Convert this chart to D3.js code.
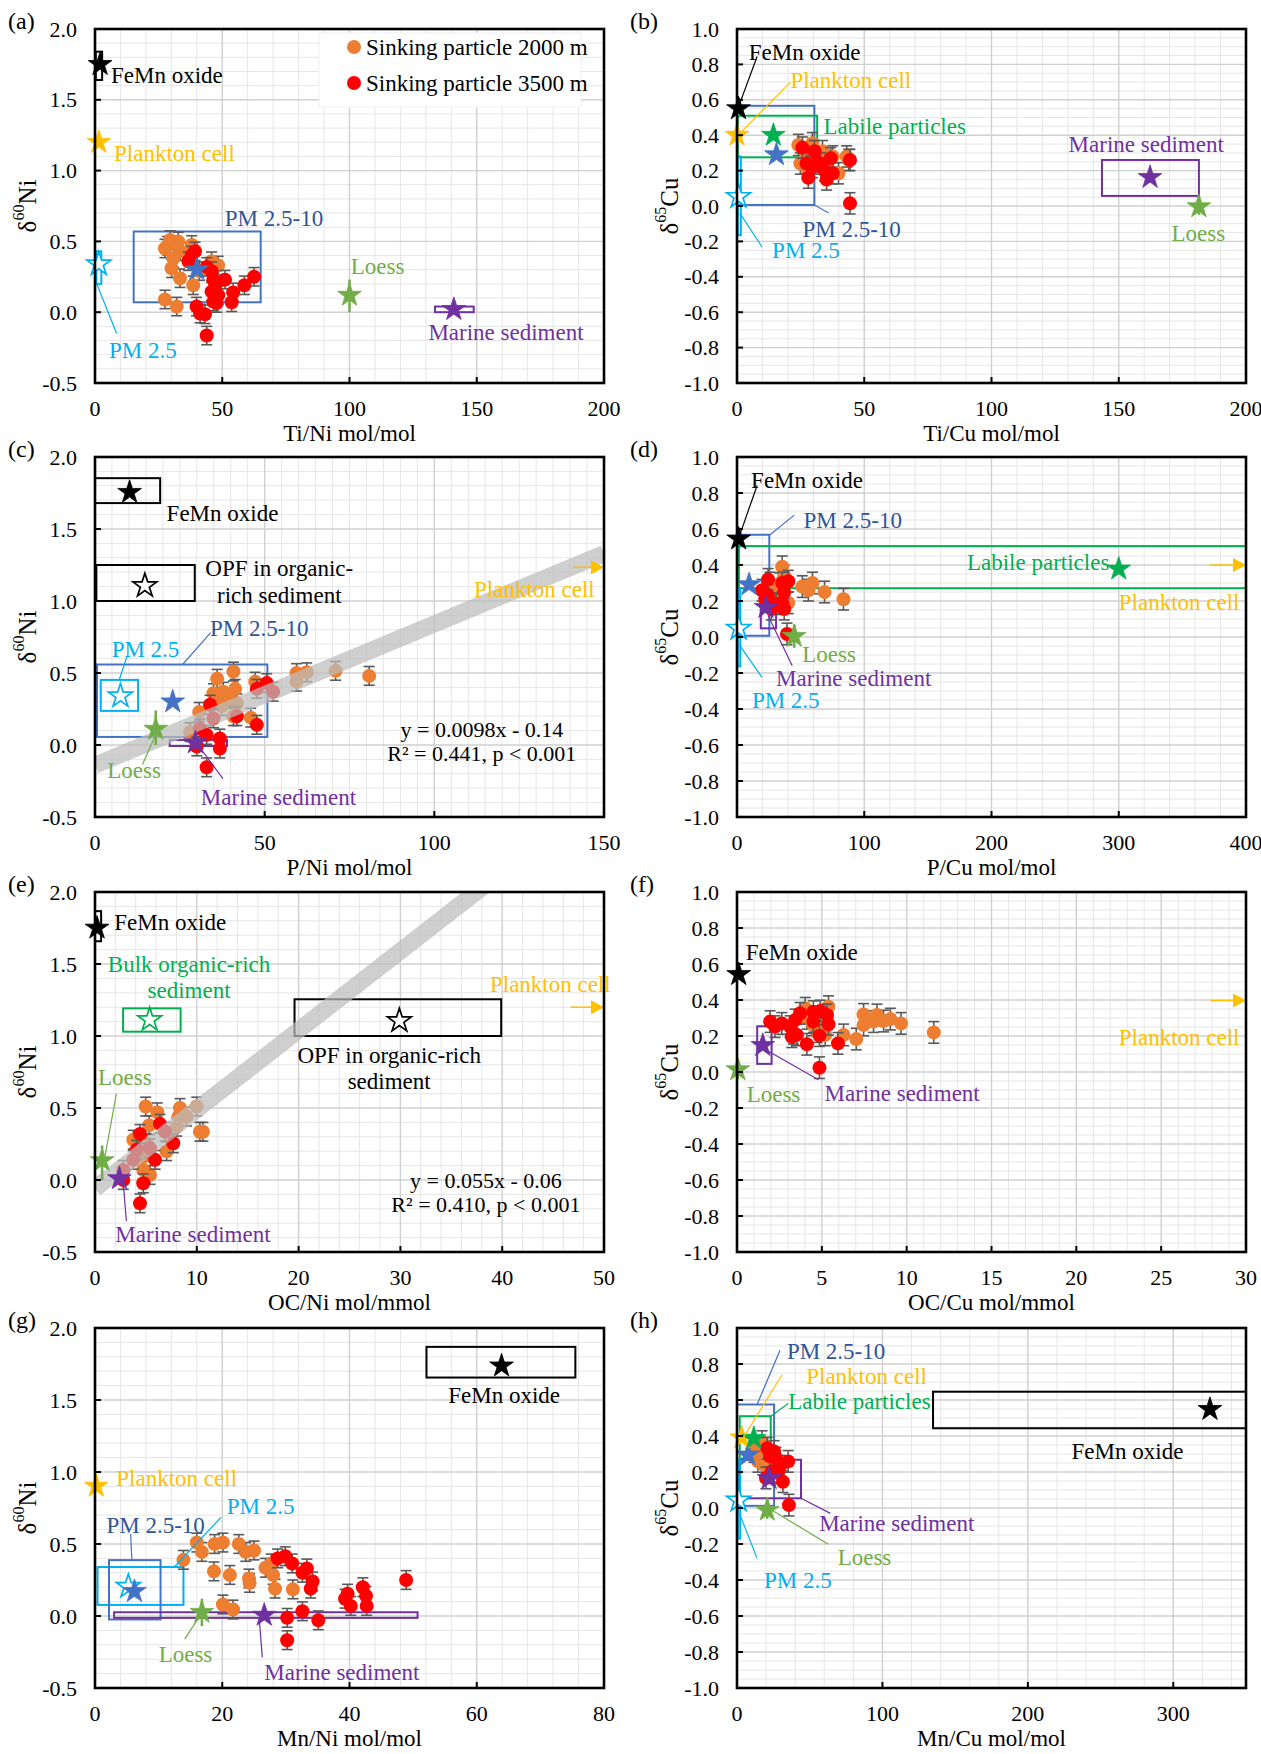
<!DOCTYPE html>
<html>
<head>
<meta charset="utf-8">
<script src="https://cdn.jsdelivr.net/npm/d3@7"></script>
<style>
  body { margin: 0; background: #fff; }
  svg text { font-family: "Liberation Serif", "Times New Roman", serif; }
</style>
</head>
<body>
<svg id="fig" width="1261" height="1754"></svg>
<script>
// ---- sinking particle data, [ratio, delta] ----
const orangeA = [[27.5,0.45],[29.5,0.51],[32.7,0.50],[38,0.475],[30.8,0.38],[30.1,0.31],[33.4,0.24],[38.6,0.19],[27.5,0.09],[32.1,0.04],[45.8,0.36],[48.4,0.33],[33.4,0.43],[28.5,0.47],[41,0.29]];
const redA = [[38,0.40],[39.3,0.43],[36.7,0.36],[43.9,0.32],[45.8,0.29],[46.5,0.23],[47.2,0.18],[45.8,0.145],[48.4,0.12],[51.1,0.23],[54.3,0.14],[58.7,0.19],[62.5,0.25],[53.7,0.07],[46.5,0.075],[39.9,0.04],[41.3,-0.01],[43.2,-0.015],[43.9,-0.165],[47.8,0.065]];
const orangeB = [[24.1,0.345],[24.9,0.24],[29.6,0.355],[27.3,0.28],[32,0.27],[37.6,0.28],[39.9,0.185],[35.2,0.20],[43.1,0.28],[43.9,0.26],[28,0.20],[33.6,0.31]];
const redB = [[25.7,0.33],[27.3,0.24],[28,0.16],[30.4,0.31],[32.8,0.24],[34.4,0.20],[35.2,0.15],[36.8,0.27],[37.6,0.185],[44.4,0.26],[44.4,0.015],[31.2,0.25],[29.6,0.22]];
const orangeC = [[36,0.46],[40.8,0.51],[47.2,0.44],[59.4,0.50],[62.4,0.505],[70.9,0.515],[80.8,0.48],[59.4,0.44],[37.8,0.37],[41.3,0.39],[35.4,0.31],[39.8,0.32],[41.8,0.29],[37.3,0.27],[30.7,0.23],[40.8,0.20],[45.9,0.19],[28,0.09],[34.9,0.36]];
const redC = [[50.6,0.43],[52.5,0.37],[47.7,0.39],[33.9,0.28],[34.9,0.185],[41.8,0.20],[47.7,0.14],[30.9,0.115],[32.9,0.07],[30,-0.01],[36.8,-0.025],[32.9,-0.155],[36.8,0.045]];
const orangeD = [[35.5,0.39],[37.1,0.34],[40.3,0.19],[51.3,0.28],[56.1,0.26],[59.3,0.30],[68.8,0.25],[83.7,0.21],[26,0.30],[32.3,0.25],[33.9,0.295],[29.2,0.21]];
const redD = [[19.7,0.26],[24.4,0.32],[22.2,0.21],[27,0.155],[35.5,0.30],[37.1,0.25],[40.3,0.31],[35.5,0.19],[37.1,0.155],[39.3,0.017],[24.4,0.23],[30.7,0.185]];
const orangeE = [[4.98,0.51],[6.12,0.47],[8.35,0.50],[9.99,0.51],[10.3,0.335],[10.6,0.335],[5.33,0.38],[3.76,0.28],[5.08,0.255],[7.04,0.20],[4.74,0.07],[5.4,0.035],[8.03,0.37],[9.0,0.44],[4.74,0.16],[8.2,0.44]];
const redE = [[6.38,0.39],[4.42,0.32],[4.1,0.21],[5.4,0.22],[5.9,0.14],[7.69,0.255],[6.88,0.335],[2.78,0.07],[2.78,0.0],[4.74,-0.023],[4.42,-0.162],[3.76,0.14]];
const orangeF = [[4.02,0.354],[5.39,0.363],[7.46,0.32],[8.25,0.317],[9.04,0.294],[9.67,0.27],[7.46,0.261],[8.05,0.28],[8.64,0.283],[6.28,0.206],[7.03,0.183],[11.6,0.22],[4.5,0.261],[4.12,0.298],[5.2,0.206],[4.71,0.224]];
const redF = [[1.95,0.28],[2.64,0.27],[3.13,0.252],[3.43,0.289],[3.72,0.326],[3.33,0.215],[3.53,0.206],[3.23,0.196],[4.5,0.335],[4.9,0.339],[5.3,0.317],[5.39,0.265],[4.5,0.28],[4.86,0.202],[4.12,0.154],[5.95,0.159],[4.86,0.024],[2.24,0.252]];
const orangeG = [[13.9,0.39],[16,0.51],[16.8,0.445],[18.8,0.50],[20.1,0.51],[18.7,0.31],[21.2,0.285],[22.6,0.50],[23.7,0.445],[25,0.455],[24.2,0.26],[24.3,0.23],[26.8,0.335],[28,0.285],[28.3,0.19],[31.1,0.185],[20.1,0.08],[21.7,0.045],[27.7,0.365]];
const redG = [[28.7,0.40],[29.9,0.415],[31,0.365],[32.6,0.30],[33.3,0.33],[34.2,0.24],[33.9,0.19],[39.3,0.12],[39.7,0.155],[40.2,0.07],[42.1,0.20],[42.6,0.14],[42.7,0.07],[48.9,0.25],[30.2,-0.013],[32.6,0.033],[35.1,-0.03],[30.2,-0.168]];
const orangeH = [[11.6,0.314],[17.2,0.369],[14.4,0.259],[19.9,0.296],[13,0.341],[18.5,0.241]];
const redH = [[20.8,0.332],[22.7,0.287],[26.8,0.277],[29.6,0.232],[35.2,0.259],[24.1,0.204],[19.9,0.167],[31.6,0.146],[35.7,0.016],[25.5,0.314],[28.2,0.195]];

// ---- end members: stars [src, x, y], boxes [src, x0, x1, y0, y1], bars [src, x, y0, y1] ----
const starsA = [["FeMn",2,1.75],["Plankton",1.5,1.2],["PM25",1.5,0.34],["PM2510",40,0.30],["Loess",100,0.12],["Marine",141,0.02]];
const boxesA = [["FeMn",0.3,2.8,1.64,1.84],["PM25",0.5,2.5,0.2,0.43],["PM2510",15.2,65.1,0.07,0.57],["Marine",133.6,148.8,0,0.04]];
const barsA = [["Loess",100,0,0.23]];
const starsB = [["FeMn",0.6,0.55],["Plankton",0,0.4],["Labile",14.3,0.4],["PM2510",15.5,0.29],["PM25",0.6,0.053],["Marine",162.3,0.162],["Loess",181.5,-0.004]];
const boxesB = [["PM2510",0,30.4,0.006,0.566],["Labile",0.3,31.5,0.275,0.51],["PM25",0.3,1.5,-0.165,0.28],["Marine",143.4,181.5,0.057,0.26]];
const barsB = [["Loess",181.5,-0.05,0.06]];
const starsC = [["FeMn",10.2,1.755],["OPF",14.7,1.106],["PM25",7.5,0.34],["PM2510",22.9,0.30],["Loess",17.9,0.11],["Marine",29.6,0.016]];
const boxesC = [["FeMn",0,19.2,1.68,1.853],["OPF",0.4,29.4,1.0,1.25],["PM25",1.7,12.7,0.237,0.452],["PM2510",0.6,50.8,0.056,0.559],["Marine",22,38.9,-0.007,0.035]];
const barsC = [["Loess",17.9,0.0,0.24]];
const starsD = [["FeMn",1.3,0.545],["PM2510",9.5,0.291],["Labile",300,0.378],["PM25",1.3,0.048],["Marine",22.8,0.165],["Loess",45,0.004]];
const boxesD = [["PM2510",1.3,25.4,0.007,0.568],["Labile",1.3,400,0.271,0.505],["PM25",0.6,2.6,-0.163,0.267],["Marine",18.7,30.7,0.048,0.262]];
const barsD = [["Loess",45,-0.06,0.07]];
const starsE = [["FeMn",0.2,1.75],["Bulk",5.37,1.113],["OPF",29.9,1.106],["Loess",0.7,0.135],["Marine",2.4,0.01]];
const boxesE = [["FeMn",0,0.6,1.658,1.867],["Bulk",2.76,8.41,1.03,1.192],["OPF",19.6,39.9,1.0,1.255]];
const barsE = [["Loess",0.7,0.0,0.24]];
const starsF = [["FeMn",0.1,0.542],["Marine",1.52,0.148],["Loess",0.05,0.013]];
const boxesF = [["Marine",1.19,2.04,0.045,0.254]];
const barsF = [["Loess",0.05,-0.04,0.07]];
const starsG = [["FeMn",63.9,1.737],["Plankton",0.2,0.902],["PM25",5.25,0.205],["PM2510",6.2,0.171],["Loess",16.8,0.026],["Marine",26.6,0.006]];
const boxesG = [["FeMn",52.1,75.5,1.656,1.869],["PM25",0.4,13.9,0.077,0.34],["PM2510",2.2,10.3,-0.024,0.388],["Marine",3.0,50.7,-0.013,0.026]];
const barsG = [["Loess",16.8,-0.07,0.12]];
const starsH = [["FeMn",325.2,0.548],["PM2510",7.5,0.295],["Plankton",3.3,0.39],["Labile",11.6,0.387],["Marine",22.1,0.164],["Loess",20.8,-0.012],["PM25",1.1,0.043]];
const boxesH = [["FeMn",134.8,350,0.443,0.646],["PM2510",0,25.5,0.012,0.575],["Labile",1.9,23.2,0.274,0.51],["Marine",1.9,44,0.054,0.268],["PM25",0.6,2.2,-0.17,0.27]];
const barsH = [["Loess",20.8,-0.06,0.06]];

// ---- annotation text [src, text, x, y, anchor] and leader lines [src, x0, y0, x1, y1] ----
const labelsA = [["FeMn","FeMn oxide",6.3,1.67,"start"],["Plankton","Plankton cell",7.5,1.12,"start"],["PM2510","PM 2.5-10",51,0.66,"start"],["Loess","Loess",100.5,0.325,"start"],["Marine","Marine sediment",131,-0.14,"start"],["PM25","PM 2.5",5.5,-0.27,"start"]];
const leadersA = [["PM25",0.8,0.195,8.5,-0.15]];
const labelsB = [["FeMn","FeMn oxide",4.6,0.865,"start"],["Plankton","Plankton cell",21,0.71,"start"],["Labile","Labile particles",34,0.45,"start"],["PM2510","PM 2.5-10",25.7,-0.135,"start"],["PM25","PM 2.5",13.8,-0.253,"start"],["Marine","Marine sediment",130.3,0.35,"start"],["Loess","Loess",170.7,-0.155,"start"]];
const leadersB = [["FeMn",0.6,0.56,7.9,0.845],["Plankton",1.1,0.41,21,0.70],["PM2510",30.4,0.006,36,-0.04],["PM25",1.1,-0.04,9.8,-0.23]];
const labelsC = [["FeMn","FeMn oxide",21.1,1.605,"start"],["OPF","OPF in organic-",54.3,1.227,"middle"],["OPF","rich sediment",54.3,1.04,"middle"],["PM25","PM 2.5",4.9,0.66,"start"],["PM2510","PM 2.5-10",33.9,0.81,"start"],["Loess","Loess",3.6,-0.176,"start"],["Marine","Marine sediment",31.2,-0.362,"start"],["Plankton","Plankton cell",111.7,1.078,"start"]];
const leadersC = [["PM25",7.2,0.457,9.5,0.62],["PM2510",25.8,0.559,34.1,0.78],["Loess",17.5,0.05,14,-0.135],["Marine",30.2,0.005,37.7,-0.234]];
const labelsD = [["FeMn","FeMn oxide",11.1,0.87,"start"],["PM2510","PM 2.5-10",52.3,0.647,"start"],["Labile","Labile particles",180.7,0.416,"start"],["Plankton","Plankton cell",300,0.193,"start"],["Loess","Loess",51.3,-0.095,"start"],["Marine","Marine sediment",30.7,-0.228,"start"],["PM25","PM 2.5",11.7,-0.35,"start"]];
const leadersD = [["FeMn",2.5,0.573,15.8,0.842],["PM2510",26,0.568,45,0.677],["PM25",2.2,-0.048,19.7,-0.224],["Marine",24.4,0.119,43.4,-0.16]];
const labelsE = [["FeMn","FeMn oxide",1.9,1.786,"start"],["Bulk","Bulk organic-rich",9.24,1.5,"middle"],["Bulk","sediment",9.24,1.315,"middle"],["OPF","OPF in organic-rich",28.9,0.867,"middle"],["OPF","sediment",28.9,0.682,"middle"],["Plankton","Plankton cell",38.8,1.357,"start"],["Loess","Loess",0.3,0.712,"start"],["Marine","Marine sediment",2,-0.378,"start"]];
const leadersE = [["Loess",0.9,0.132,2.1,0.6],["Marine",2.76,-0.007,3.08,-0.285]];
const labelsF = [["FeMn","FeMn oxide",0.52,0.662,"start"],["Loess","Loess",0.57,-0.126,"start"],["Marine","Marine sediment",5.16,-0.122,"start"],["Plankton","Plankton cell",22.5,0.19,"start"]];
const leadersF = [["Marine",1.7,0.124,4.8,-0.043]];
const labelsG = [["FeMn","FeMn oxide",64.3,1.53,"middle"],["Plankton","Plankton cell",3.35,0.955,"start"],["PM25","PM 2.5",20.7,0.758,"start"],["PM2510","PM 2.5-10",1.8,0.626,"start"],["Loess","Loess",10,-0.264,"start"],["Marine","Marine sediment",26.6,-0.39,"start"]];
const leadersG = [["PM25",12.5,0.342,19.8,0.685],["PM2510",5.8,0.388,5.6,0.57],["Loess",16.6,0.01,14.1,-0.161],["Marine",25.8,-0.013,26.3,-0.287]];
const labelsH = [["FeMn","FeMn oxide",268.5,0.314,"middle"],["PM2510","PM 2.5-10",34.3,0.87,"start"],["Plankton","Plankton cell",47.6,0.732,"start"],["Labile","Labile particles",35.2,0.59,"start"],["Marine","Marine sediment",56.5,-0.085,"start"],["Loess","Loess",69.2,-0.275,"start"],["PM25","PM 2.5",18.5,-0.4,"start"]];
const leadersH = [["PM2510",13.8,0.575,29.6,0.876],["Plankton",4.7,0.396,31,0.74],["Labile",23.2,0.51,35.2,0.58],["Marine",44,0.054,64.2,-0.03],["Loess",24.1,-0.012,62.8,-0.202],["PM25",1.9,-0.034,13.8,-0.28]];

// plankton cell arrows [x0, x1, y], regressions [slope, intercept]
const arrowsC = [[140.8,150,1.234]];
const arrowsD = [[371.5,400,0.4]];
const arrowsE = [[46.7,50,1.2]];
const arrowsF = [[27.9,30,0.397]];
const fitC = [0.0098, -0.14];
const fitE = [0.055, -0.06];
const eqC = ["y = 0.0098x - 0.14", "R\u00b2 = 0.441, p < 0.001"];
const eqE = ["y = 0.055x - 0.06", "R\u00b2 = 0.410, p < 0.001"];

const errNi = 0.065, errCu = 0.06;
const legendLabels = ["Sinking particle 2000 m", "Sinking particle 3500 m"];

// ---- styles ----
const srcColor = {FeMn:"#000000", OPF:"#000000", Plankton:"#FFC000", PM25:"#00B0F0", PM2510:"#4472C4",
  Labile:"#00B050", Bulk:"#00B050", Loess:"#70AD47", Marine:"#7030A0"};
const labelColor = Object.assign({}, srcColor, {PM2510:"#2F5597"});
const openStar = new Set(["PM25", "OPF", "Bulk"]);
const orangeCol = "#ED7D31", redCol = "#FF0000", errCol = "#595959";

const colLeft = [95, 737], plotW = 509;
const rowTop = [29, 457, 892, 1328], rowH = [354, 360, 360, 360];

const panels = [
  {id:"a", col:0, row:0, xd:[0,200], yd:[-0.5,2], xs:[50,10], ys:[0.5,0.1], xt:"Ti/Ni mol/mol", el:["60","Ni"], o:orangeA, r:redA, err:errNi, st:starsA, bx:boxesA, br:barsA, lb:labelsA, ld:leadersA, legend:true},
  {id:"b", col:1, row:0, xd:[0,200], yd:[-1,1], xs:[50,10], ys:[0.2,0.05], xt:"Ti/Cu mol/mol", el:["65","Cu"], o:orangeB, r:redB, err:errCu, st:starsB, bx:boxesB, br:barsB, lb:labelsB, ld:leadersB},
  {id:"c", col:0, row:1, xd:[0,150], yd:[-0.5,2], xs:[50,5], ys:[0.5,0.1], xt:"P/Ni mol/mol", el:["60","Ni"], o:orangeC, r:redC, err:errNi, st:starsC, bx:boxesC, br:barsC, lb:labelsC, ld:leadersC, ar:arrowsC, fit:fitC, eq:eqC, eqPos:[114, 0.109, -0.058]},
  {id:"d", col:1, row:1, xd:[0,400], yd:[-1,1], xs:[100,20], ys:[0.2,0.05], xt:"P/Cu mol/mol", el:["65","Cu"], o:orangeD, r:redD, err:errCu, st:starsD, bx:boxesD, br:barsD, lb:labelsD, ld:leadersD, ar:arrowsD},
  {id:"e", col:0, row:2, xd:[0,50], yd:[-0.5,2], xs:[10,2], ys:[0.5,0.1], xt:"OC/Ni mol/mmol", el:["60","Ni"], o:orangeE, r:redE, err:errNi, st:starsE, bx:boxesE, br:barsE, lb:labelsE, ld:leadersE, ar:arrowsE, fit:fitE, eq:eqE, eqPos:[38.4, 0.0, -0.17]},
  {id:"f", col:1, row:2, xd:[0,30], yd:[-1,1], xs:[5,1], ys:[0.2,0.05], xt:"OC/Cu mol/mmol", el:["65","Cu"], o:orangeF, r:redF, err:errCu, st:starsF, bx:boxesF, br:barsF, lb:labelsF, ld:leadersF, ar:arrowsF},
  {id:"g", col:0, row:3, xd:[0,80], yd:[-0.5,2], xs:[20,4], ys:[0.5,0.1], xt:"Mn/Ni mol/mol", el:["60","Ni"], o:orangeG, r:redG, err:errNi, st:starsG, bx:boxesG, br:barsG, lb:labelsG, ld:leadersG},
  {id:"h", col:1, row:3, xd:[0,350], yd:[-1,1], xs:[100,20], ys:[0.2,0.05], xt:"Mn/Cu mol/mol", el:["65","Cu"], o:orangeH, r:redH, err:errCu, st:starsH, bx:boxesH, br:barsH, lb:labelsH, ld:leadersH}
];

const svg = d3.select("#fig");
svg.append("rect").attr("width", 1261).attr("height", 1754).attr("fill", "#fff");

function steps(lo, hi, step) {
  const n = Math.round((hi - lo) / step);
  return d3.range(n + 1).map(k => +(lo + k * step).toFixed(6)).filter(v => v <= hi + 1e-9);
}

function drawPanel(p) {
  const left = colLeft[p.col], top = rowTop[p.row], h = rowH[p.row];
  const x = d3.scaleLinear().domain(p.xd).range([left, left + plotW]);
  const y = d3.scaleLinear().domain(p.yd).range([top + h, top]);
  const g = svg.append("g");

  g.append("clipPath").attr("id", "clip-" + p.id)
    .append("rect").attr("x", left).attr("y", top).attr("width", plotW).attr("height", h);

  // grid
  const xMajor = steps(p.xd[0], p.xd[1], p.xs[0]);
  const yMajor = steps(p.yd[0], p.yd[1], p.ys[0]);
  const isMajor = (v, s, lo) => Math.abs((v - lo) / s - Math.round((v - lo) / s)) < 1e-6;
  const xMinor = steps(p.xd[0], p.xd[1], p.xs[1]).filter(v => !isMajor(v, p.xs[0], p.xd[0]));
  const yMinor = steps(p.yd[0], p.yd[1], p.ys[1]).filter(v => !isMajor(v, p.ys[0], p.yd[0]));
  const grid = g.append("g");
  grid.selectAll(".vmin").data(xMinor).join("line")
    .attr("x1", d => x(d)).attr("x2", d => x(d)).attr("y1", top).attr("y2", top + h)
    .attr("stroke", "#e6e6e6").attr("stroke-width", 1);
  grid.selectAll(".hmin").data(yMinor).join("line")
    .attr("x1", left).attr("x2", left + plotW).attr("y1", d => y(d)).attr("y2", d => y(d))
    .attr("stroke", "#e6e6e6").attr("stroke-width", 1);
  grid.selectAll(".vmaj").data(xMajor).join("line")
    .attr("x1", d => x(d)).attr("x2", d => x(d)).attr("y1", top).attr("y2", top + h)
    .attr("stroke", "#d0d0d0").attr("stroke-width", 1.4);
  grid.selectAll(".hmaj").data(yMajor).join("line")
    .attr("x1", left).attr("x2", left + plotW).attr("y1", d => y(d)).attr("y2", d => y(d))
    .attr("stroke", "#d0d0d0").attr("stroke-width", 1.4);

  // legend backdrop (panel a)
  if (p.legend) {
    g.append("rect").attr("x", left + 224).attr("y", top + 4).attr("width", 262).attr("height", 74)
      .attr("fill", "#fff").attr("stroke", "#f0f0f0");
  }

  // end member boxes
  g.selectAll(".box").data(p.bx).join("rect")
    .attr("x", d => x(d[1])).attr("y", d => y(d[4]))
    .attr("width", d => x(d[2]) - x(d[1])).attr("height", d => y(d[3]) - y(d[4]))
    .attr("fill", "none").attr("stroke", d => srcColor[d[0]]).attr("stroke-width", 2);

  // sinking particles with error bars
  [[p.o, orangeCol], [p.r, redCol]].forEach(([pts, col]) => {
    const eb = g.append("g").attr("stroke", errCol).attr("stroke-width", 1.6);
    eb.selectAll(".v").data(pts).join("line")
      .attr("x1", d => x(d[0])).attr("x2", d => x(d[0]))
      .attr("y1", d => y(d[1] - p.err)).attr("y2", d => y(d[1] + p.err));
    [-1, 1].forEach(s => {
      eb.selectAll(".c" + s).data(pts).join("line")
        .attr("x1", d => x(d[0]) - 5.5).attr("x2", d => x(d[0]) + 5.5)
        .attr("y1", d => y(d[1] + s * p.err)).attr("y2", d => y(d[1] + s * p.err));
    });
    g.append("g").selectAll("circle").data(pts).join("circle")
      .attr("cx", d => x(d[0])).attr("cy", d => y(d[1])).attr("r", 7)
      .attr("fill", col);
  });

  // regression band
  if (p.fit) {
    g.append("line")
      .attr("x1", x(p.xd[0])).attr("y1", y(p.fit[0] * p.xd[0] + p.fit[1]))
      .attr("x2", x(p.xd[1])).attr("y2", y(p.fit[0] * p.xd[1] + p.fit[1]))
      .attr("stroke", "#bdbdbd").attr("stroke-opacity", 0.72).attr("stroke-width", 17)
      .attr("clip-path", "url(#clip-" + p.id + ")");
  }

  // vertical bars on end members
  g.selectAll(".bar").data(p.br).join("line")
    .attr("x1", d => x(d[1])).attr("x2", d => x(d[1]))
    .attr("y1", d => y(d[2])).attr("y2", d => y(d[3]))
    .attr("stroke", d => srcColor[d[0]]).attr("stroke-width", 2.5);

  // stars
  const star = d3.symbol().type(d3.symbolStar).size(175)();
  g.selectAll(".star").data(p.st).join("path")
    .attr("d", star)
    .attr("transform", d => `translate(${x(d[1])},${y(d[2])})`)
    .attr("fill", d => openStar.has(d[0]) ? "#fff" : srcColor[d[0]])
    .attr("stroke", d => srcColor[d[0]])
    .attr("stroke-width", d => openStar.has(d[0]) ? 1.7 : 0.8);

  // leader lines
  g.selectAll(".lead").data(p.ld).join("line")
    .attr("x1", d => x(d[1])).attr("y1", d => y(d[2]))
    .attr("x2", d => x(d[3])).attr("y2", d => y(d[4]))
    .attr("stroke", d => srcColor[d[0]]).attr("stroke-width", 1.2);

  // plankton arrows
  (p.ar || []).forEach(a => {
    const tx = x(a[1]), ty = y(a[2]);
    g.append("line").attr("x1", x(a[0])).attr("x2", tx - 10).attr("y1", ty).attr("y2", ty)
      .attr("stroke", srcColor.Plankton).attr("stroke-width", 1.5);
    g.append("path").attr("d", `M${tx},${ty}L${tx - 13},${ty - 7}L${tx - 13},${ty + 7}Z`)
      .attr("fill", srcColor.Plankton);
  });

  // text labels
  g.selectAll(".lab").data(p.lb).join("text")
    .attr("x", d => x(d[2])).attr("y", d => y(d[3]))
    .attr("text-anchor", d => d[4]).attr("dominant-baseline", "central")
    .attr("font-size", 23).attr("fill", d => labelColor[d[0]])
    .text(d => d[1]);

  if (p.eq) {
    g.selectAll(".eq").data(p.eq).join("text")
      .attr("x", x(p.eqPos[0])).attr("y", (d, i) => y(p.eqPos[i + 1]))
      .attr("text-anchor", "middle").attr("dominant-baseline", "central")
      .attr("font-size", 22).attr("fill", "#000").text(d => d);
  }

  // legend entries
  if (p.legend) {
    const lg = g.append("g");
    [[orangeCol, 0], [redCol, 1]].forEach(([c, i]) => {
      lg.append("circle").attr("cx", left + 259).attr("cy", top + 18 + i * 36).attr("r", 7).attr("fill", c);
      lg.append("text").attr("x", left + 271).attr("y", top + 18 + i * 36)
        .attr("dominant-baseline", "central").attr("font-size", 23).text(legendLabels[i]);
    });
  }

  // frame and ticks
  g.append("rect").attr("x", left).attr("y", top).attr("width", plotW).attr("height", h)
    .attr("fill", "none").attr("stroke", "#000").attr("stroke-width", 2.6);
  g.selectAll(".xt").data(xMajor).join("line")
    .attr("x1", d => x(d)).attr("x2", d => x(d)).attr("y1", top + h).attr("y2", top + h - 6)
    .attr("stroke", "#000").attr("stroke-width", 2);
  g.selectAll(".yt").data(yMajor).join("line")
    .attr("x1", left).attr("x2", left + 6).attr("y1", d => y(d)).attr("y2", d => y(d))
    .attr("stroke", "#000").attr("stroke-width", 2);

  g.selectAll(".xl").data(xMajor).join("text")
    .attr("x", d => x(d)).attr("y", top + h + 25)
    .attr("text-anchor", "middle").attr("dominant-baseline", "central")
    .attr("font-size", 22).text(d => d);
  g.selectAll(".yl").data(yMajor).join("text")
    .attr("x", left - 18).attr("y", d => y(d))
    .attr("text-anchor", "end").attr("dominant-baseline", "central")
    .attr("font-size", 22).text(d => d.toFixed(1));

  g.append("text").attr("x", left + plotW / 2).attr("y", top + h + 50)
    .attr("text-anchor", "middle").attr("dominant-baseline", "central")
    .attr("font-size", 23).text(p.xt);

  const yt = g.append("text")
    .attr("transform", `translate(${left - 68},${top + h / 2}) rotate(-90)`)
    .attr("text-anchor", "middle").attr("dominant-baseline", "central").attr("font-size", 25);
  yt.append("tspan").text("\u03b4");
  yt.append("tspan").attr("font-size", 16).attr("dy", -9).text(p.el[0]);
  yt.append("tspan").attr("dy", 9).text(p.el[1]);

  g.append("text").attr("x", p.col === 0 ? 8 : 630).attr("y", top - 8)
    .attr("dominant-baseline", "central").attr("font-size", 24).text("(" + p.id + ")");
}

panels.forEach(drawPanel);
</script>
</body>
</html>
